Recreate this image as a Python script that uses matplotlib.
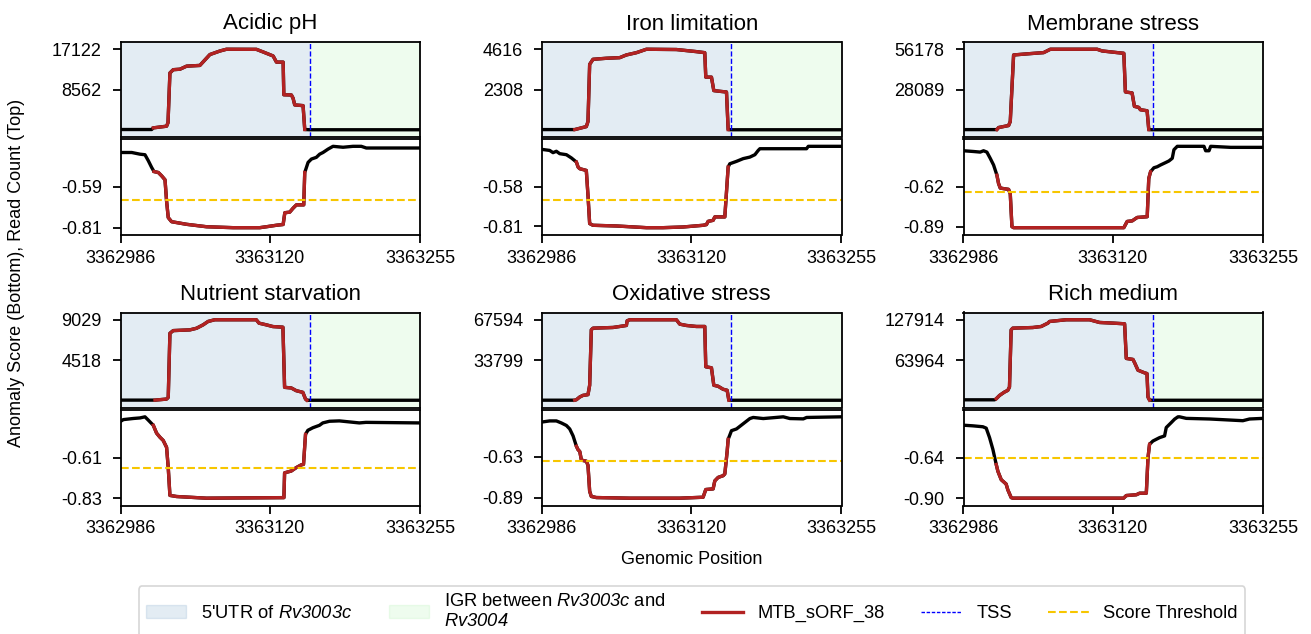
import numpy as np
import matplotlib
matplotlib.use("Agg")
from matplotlib import pyplot as plt
from matplotlib.patches import Patch
from matplotlib.lines import Line2D

plt.rcParams['font.family'] = ['Liberation Sans', 'DejaVu Sans']
#italic gene names in the legend (digits too)
plt.rcParams['mathtext.fontset'] = 'custom'
plt.rcParams['mathtext.it'] = 'Liberation Sans:italic'
plt.rcParams['mathtext.rm'] = 'Liberation Sans:italic'
plt.rcParams['axes.unicode_minus'] = False

#genomic window
START = 3362986
END = 3363255
x_ticks = [3362986, 3363120, 3363255]

#region boundaries, as offsets from START
sorf_start = 29
sorf_end = 168
tss = 170

titles = ["Acidic pH", "Iron limitation", "Membrane stress",
          "Nutrient starvation", "Oxidative stress", "Rich medium"]

#read count (top) and anomaly score (bottom), x as offset from START

#acidic pH
acid_top_x = [0, 27.8, 29.3, 41.2, 42.5, 44.2, 47.2, 53.2, 59.2, 71.1, 80.1, 89.1, 95.0, 121.9, 127.9,
              136.9, 139.9, 145.9, 146.5, 153.3, 154.8, 156.3, 163.8, 165.3, 170, 269]
acid_top_y = [150, 150, 500, 850, 1600, 12100, 12800, 12900, 13550, 13700, 16000, 16750, 17122, 17100, 16550,
              15700, 14400, 14400, 7500, 7450, 6780, 5350, 5200, 150, 100, 100]
acid_bot_x = [0, 9.9, 17.3, 21.8, 24.8, 27.8, 29.9, 33.8, 36.8, 39.8, 41.2, 42.7, 45.7, 59.2, 77.1, 101.0,
              124.9, 130.9, 139.9, 145.9, 147.4, 151.8, 154.8, 157.8, 164.4, 165.3, 168.3, 171.3, 175.7,
              178.7, 181.7, 186.2, 190.7, 199.7, 208.6, 216.1, 220.6, 269]
acid_bot_y = [-0.408, -0.408, -0.417, -0.42, -0.452, -0.488, -0.51, -0.515, -0.533, -0.554, -0.667, -0.756,
              -0.778, -0.792, -0.805, -0.81, -0.81, -0.805, -0.797, -0.793, -0.73, -0.727, -0.706, -0.688,
              -0.688, -0.515, -0.461, -0.443, -0.434, -0.417, -0.408, -0.39, -0.375, -0.38, -0.375, -0.375,
              -0.384, -0.384]
acid_thr = -0.663
acid_yt = [17122, 8562]
acid_st = [-0.59, -0.81]

#iron limitation
iron_top_x = [0, 29.4, 39.8, 41.3, 42.8, 45.8, 57.8, 69.8, 75.8, 84.8, 93.8, 120.7, 126.7, 138.7, 146.2,
              147.1, 152.2, 154.3, 159.7, 165.7, 167.2, 170, 269]
iron_top_y = [20, 20, 190, 480, 3750, 4040, 4100, 4135, 4290, 4420, 4616, 4600, 4560, 4480, 4420,
              3020, 3020, 2250, 2210, 2170, 20, 10, 10]
iron_bot_x = [0, 6.9, 9.9, 12.9, 15.9, 21.9, 26.4, 30.9, 32.4, 33.9, 39.8, 41.3, 42.8, 45.8, 66.8, 93.8,
              108.7, 126.7, 144.7, 147.7, 149.2, 153.7, 155.2, 164.2, 165.7, 167.2, 168.7, 174.7, 180.7,
              186.7, 191.2, 194.2, 195.7, 237.6, 239.2, 269]
iron_bot_y = [-0.36, -0.366, -0.379, -0.371, -0.385, -0.391, -0.41, -0.434, -0.463, -0.473, -0.483, -0.629,
              -0.794, -0.804, -0.808, -0.818, -0.818, -0.814, -0.804, -0.80, -0.781, -0.775, -0.755, -0.755,
              -0.609, -0.463, -0.444, -0.43, -0.414, -0.405, -0.391, -0.366, -0.356, -0.356, -0.342, -0.342]
iron_thr = -0.658
iron_yt = [4616, 2308]
iron_st = [-0.58, -0.81]

#membrane stress
memb_top_x = [0, 30.0, 31.5, 40.5, 42.0, 45.0, 60.0, 72.0, 78.0, 120.0, 124.5, 138.0, 144.0, 145.4, 151.4,
              153.5, 157.4, 158.9, 164.9, 166.4, 170, 269]
memb_top_y = [200, 200, 1640, 3043, 5850, 52200, 53140, 53840, 56178, 56178, 55000, 53840, 53370, 26450, 25750,
              16390, 15680, 14040, 13340, 200, 100, 100]
memb_bot_x = [0, 9.0, 15.0, 18.0, 21.0, 24.0, 27.0, 30.0, 31.5, 33.0, 36.0, 40.5, 42.0, 43.5, 45.0, 144.0,
              147.0, 151.5, 156.0, 165.0, 166.4, 168.0, 171.0, 174.0, 177.0, 181.5, 184.5, 187.5, 189.0,
              192.0, 216.0, 217.5, 220.5, 222.0, 240.0, 269]
memb_bot_y = [-0.375, -0.38, -0.384, -0.375, -0.384, -0.426, -0.471, -0.54, -0.597, -0.627, -0.631, -0.636,
              -0.666, -0.888, -0.895, -0.895, -0.853, -0.849, -0.826, -0.821, -0.563, -0.517, -0.49, -0.483,
              -0.471, -0.455, -0.444, -0.426, -0.368, -0.345, -0.345, -0.375, -0.375, -0.345, -0.352, -0.352]
memb_thr = -0.654
memb_yt = [56178, 28089]
memb_st = [-0.62, -0.89]

#nutrient starvation
nutr_top_x = [0, 30.8, 41.2, 42.7, 44.2, 47.2, 62.1, 68.1, 74.0, 78.5, 84.5, 121.8, 124.2, 130.8, 136.7,
              145.7, 147.2, 153.2, 157.6, 163.6, 166.0, 167.2, 170, 269]
nutr_top_y = [75, 75, 190, 380, 7520, 7820, 7900, 8080, 8460, 8840, 9029, 9029, 8650, 8460, 8270,
              8200, 1500, 1430, 1130, 940, 190, 60, 60, 60]
nutr_bot_x = [0, 2.4, 11.3, 17.3, 21.8, 24.8, 29.3, 32.2, 35.2, 38.2, 41.2, 42.7, 44.2, 50.2, 77.0, 146.6,
              147.2, 153.2, 157.6, 162.1, 164.2, 166.0, 168.1, 172.6, 178.5, 181.5, 187.5, 196.4, 214.3,
              220.3, 269]
nutr_bot_y = [-0.414, -0.405, -0.399, -0.396, -0.39, -0.408, -0.436, -0.478, -0.5, -0.518, -0.555, -0.665,
              -0.815, -0.821, -0.83, -0.827, -0.693, -0.683, -0.665, -0.65, -0.647, -0.485, -0.463, -0.449,
              -0.436, -0.423, -0.414, -0.412, -0.423, -0.42, -0.423]
nutr_thr = -0.665
nutr_yt = [9029, 4518]
nutr_st = [-0.61, -0.83]

#oxidative stress
oxid_top_x = [0, 29.4, 30.9, 33.9, 36.9, 41.3, 42.8, 44.3, 45.8, 63.8, 69.8, 75.8, 76.5, 78.8, 120.7,
              123.7, 129.7, 138.7, 146.2, 147.1, 152.2, 154.3, 158.2, 162.7, 166.3, 167.8, 170, 269]
oxid_top_y = [150, 150, 560, 2820, 4220, 4790, 12670, 59140, 60540, 61110, 61950, 62800, 66740, 67594, 67594,
              63920, 62800, 61950, 61950, 28160, 27320, 12670, 11830, 9290, 8450, 150, 100, 100]
oxid_bot_x = [0, 6.9, 12.9, 17.4, 21.9, 24.9, 27.9, 30.9, 32.4, 33.9, 35.4, 39.8, 41.3, 42.8, 44.3, 48.8,
              78.8, 123.7, 144.7, 147.1, 153.7, 155.2, 158.2, 162.7, 164.2, 166.3, 167.2, 170.2, 174.7,
              180.7, 186.7, 189.7, 198.7, 216.7, 222.7, 234.7, 237.7, 269]
oxid_bot_y = [-0.41, -0.403, -0.403, -0.416, -0.432, -0.454, -0.498, -0.564, -0.586, -0.597, -0.652, -0.659,
              -0.685, -0.85, -0.883, -0.89, -0.894, -0.894, -0.888, -0.839, -0.835, -0.784, -0.762, -0.751,
              -0.74, -0.597, -0.52, -0.465, -0.454, -0.421, -0.388, -0.381, -0.388, -0.377, -0.388, -0.39,
              -0.381, -0.377]
oxid_thr = -0.659
oxid_yt = [67594, 33799]
oxid_st = [-0.63, -0.89]

#rich medium
rich_top_x = [0, 27.9, 29.4, 32.4, 36.8, 39.8, 41.3, 42.8, 44.3, 62.3, 69.8, 75.8, 77.3, 92.3, 113.2,
              122.2, 134.2, 144.7, 146.2, 152.2, 153.7, 156.7, 162.7, 164.8, 165.7, 167.1, 170, 269]
rich_top_y = [1000, 1000, 2700, 8000, 13300, 16000, 21300, 111900, 114600, 115600, 117240, 122570, 125200,
              127914, 127914, 123600, 122570, 121500, 66600, 65000, 59700, 47960, 43700, 42630, 5330, 500,
              300, 300]
rich_bot_x = [0, 8.4, 17.4, 20.4, 23.4, 26.4, 29.4, 30.9, 33.9, 38.3, 39.8, 42.8, 44.3, 143.8, 146.2,
              155.2, 158.2, 164.2, 165.7, 167.1, 170.1, 176.1, 180.6, 182.1, 186.6, 189.6, 192.6, 194.1,
              200.1, 221.1, 250.9, 256.9, 269]
rich_bot_y = [-0.43, -0.434, -0.44, -0.449, -0.51, -0.586, -0.683, -0.727, -0.781, -0.809, -0.846, -0.896,
              -0.90, -0.90, -0.883, -0.878, -0.868, -0.868, -0.64, -0.553, -0.532, -0.51, -0.499, -0.445,
              -0.413, -0.391, -0.376, -0.376, -0.386, -0.39, -0.401, -0.39, -0.386]
rich_thr = -0.644
rich_yt = [127914, 63964]
rich_st = [-0.64, -0.90]

panels = [
    (acid_top_x, acid_top_y, acid_bot_x, acid_bot_y, acid_thr, acid_yt, acid_st),
    (iron_top_x, iron_top_y, iron_bot_x, iron_bot_y, iron_thr, iron_yt, iron_st),
    (memb_top_x, memb_top_y, memb_bot_x, memb_bot_y, memb_thr, memb_yt, memb_st),
    (nutr_top_x, nutr_top_y, nutr_bot_x, nutr_bot_y, nutr_thr, nutr_yt, nutr_st),
    (oxid_top_x, oxid_top_y, oxid_bot_x, oxid_bot_y, oxid_thr, oxid_yt, oxid_st),
    (rich_top_x, rich_top_y, rich_bot_x, rich_bot_y, rich_thr, rich_yt, rich_st),
]

RED = "#b22222"
UTR_COLOR = "steelblue"
IGR_COLOR = "lightgreen"
THR_COLOR = "#f7c600"
FS = 13


def draw_curve(ax, xs, ys):
    xs = START + np.array(xs, dtype=float)
    ys = np.array(ys, dtype=float)
    ax.plot(xs, ys, color="black", lw=2.4)
    #part inside the sORF drawn red on top
    inside = (xs >= START + sorf_start) & (xs <= START + sorf_end)
    ax.plot(xs[inside], ys[inside], color=RED, lw=2.4)
    r = ys.max() - ys.min()
    ax.set_ylim(ys.min() - 0.09 * r, ys.max() + 0.09 * r)


def style_axes(ax):
    for s in ax.spines.values():
        s.set_linewidth(1.3)
    ax.tick_params(width=1.3, length=5.6, labelsize=FS)
    ax.tick_params(axis="y", pad=8)
    ax.tick_params(axis="x", pad=5)
    ax.set_xlim(START, END)


W, H = 1311, 634
fig = plt.figure(figsize=(W / 100, H / 100), dpi=100)

col_left = [120.7, 542.0, 963.5]
row_top = [42.0, 312.5]
panel_w = 299.5
top_h = 95.0
gap = 2.0
bot_h = 96.0

for i, (tx, ty, bx, by, thr, yt, st) in enumerate(panels):
    r, c = divmod(i, 3)
    x0 = col_left[c]
    y_top = row_top[r]
    ax_t = fig.add_axes([x0 / W, (H - y_top - top_h) / H, panel_w / W, top_h / H])
    ax_b = fig.add_axes([x0 / W, (H - y_top - top_h - gap - bot_h) / H, panel_w / W, bot_h / H])

    #top: read count with regions
    ax_t.axvspan(START, START + tss, color=UTR_COLOR, alpha=0.15, lw=0)
    ax_t.axvspan(START + tss, END, color=IGR_COLOR, alpha=0.15, lw=0)
    draw_curve(ax_t, tx, ty)
    ax_t.axvline(START + tss, color="blue", lw=1.0, ls="--")
    style_axes(ax_t)
    ax_t.set_xticks([])
    ax_t.set_yticks(yt)
    ax_t.set_yticklabels([str(v) for v in yt])
    ax_t.set_title(titles[i], fontsize=16, pad=9)

    #bottom: anomaly score
    draw_curve(ax_b, bx, by)
    ax_b.axhline(thr, color=THR_COLOR, lw=1.5, ls="--")
    style_axes(ax_b)
    ax_b.set_yticks(st)
    ax_b.set_yticklabels(["%.2f" % v for v in st])
    ax_b.set_xticks(x_ticks)
    ax_b.set_xticklabels([str(v) for v in x_ticks])

fig.text(691.5 / W, 1 - 559 / H, "Genomic Position", ha="center", va="center", fontsize=FS)
fig.text(17 / W, 1 - 273 / H, "Anomaly Score (Bottom), Read Count (Top)", ha="center", va="center",
         rotation=90, fontsize=FS)

handles = [
    Patch(facecolor=UTR_COLOR, edgecolor=UTR_COLOR, alpha=0.15),
    Patch(facecolor=IGR_COLOR, edgecolor=IGR_COLOR, alpha=0.15),
    Line2D([], [], color=RED, lw=2.4),
    Line2D([], [], color="blue", lw=1.0, ls="--", dashes=(2.5, 1.2)),
    Line2D([], [], color=THR_COLOR, lw=1.5, ls="--"),
]
labels = [
    "5'UTR of $Rv3003c$",
    "IGR between $Rv3003c$ and\n$Rv3004$",
    "MTB_sORF_38",
    "TSS",
    "Score Threshold",
]
leg = fig.legend(handles, labels, loc="upper center", ncol=5,
                 bbox_to_anchor=(692 / W, 1 - 586 / H), borderaxespad=0,
                 fontsize=13.2, handlelength=2.2, handletextpad=0.8, columnspacing=2.0,
                 frameon=True, fancybox=True)
leg.get_frame().set_edgecolor("#cccccc")
leg.get_frame().set_linewidth(1.2)

fig.savefig("out.png", dpi=100)
